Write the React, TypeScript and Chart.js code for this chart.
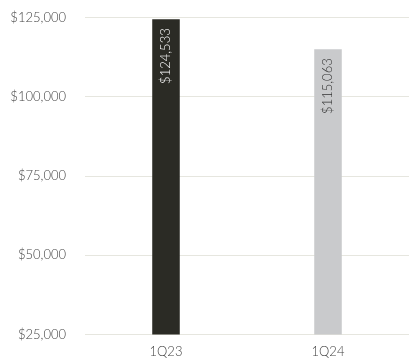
import React, { useEffect, useRef } from "react";
import { Chart, registerables } from "chart.js";

Chart.register(...registerables);

const categories = ["1Q23", "1Q24"];
const values = [124533, 115063];
const barColors = ["#2b2b25", "#c9cacc"];
const labelColors = ["#ffffff", "#333333"];
const yTicks = [25000, 50000, 75000, 100000, 125000];

const fmt = (v: number) => "$" + v.toLocaleString("en-US");

const barLabelPlugin = {
  id: "barLabels",
  afterDatasetsDraw(chart: any) {
    const ctx = chart.ctx;
    const meta = chart.getDatasetMeta(0);
    meta.data.forEach((bar: any, i: number) => {
      ctx.save();
      ctx.translate(bar.x, bar.y + 9);
      ctx.rotate(-Math.PI / 2);
      ctx.font = "300 13px Lato";
      ctx.fillStyle = labelColors[i];
      ctx.textAlign = "right";
      ctx.textBaseline = "middle";
      ctx.fillText(fmt(values[i]), 0, 0);
      ctx.restore();
    });
  },
};

export default function App() {
  const ref = useRef<HTMLCanvasElement>(null);
  useEffect(() => {
    const chart = new Chart(ref.current!, {
      type: "bar",
      data: {
        labels: categories,
        datasets: [
          {
            data: values,
            backgroundColor: barColors,
            barPercentage: 0.17,
            categoryPercentage: 1,
          },
        ],
      },
      options: {
        animation: false,
        responsive: true,
        maintainAspectRatio: false,
        layout: { padding: { top: 3, right: 0, left: 0, bottom: 0 } },
        plugins: { legend: { display: false }, tooltip: { enabled: false } },
        scales: {
          x: {
            grid: { display: false },
            border: { display: false },
            ticks: { color: "#444", font: { family: "Lato", size: 13, weight: "300" }, padding: 2 },
          },
          y: {
            min: 25000,
            max: 125000,
            afterBuildTicks: (axis: any) => {
              axis.ticks = yTicks.map((v) => ({ value: v }));
            },
            afterFit: (scale: any) => {
              scale.width = 85;
            },
            grid: { color: "#e6e6df", drawTicks: false },
            border: { display: false },
            ticks: {
              color: "#444",
              font: { family: "Lato", size: 13, weight: "300" },
              padding: 19,
              callback: (v: any) => fmt(Number(v)),
            },
          },
        },
      },
      plugins: [barLabelPlugin],
    });
    return () => chart.destroy();
  }, []);
  return (
    <div style={{ position: "fixed", left: 0, top: -9, width: 409, height: 371, background: "#fff" }}>
      <canvas ref={ref} />
    </div>
  );
}
